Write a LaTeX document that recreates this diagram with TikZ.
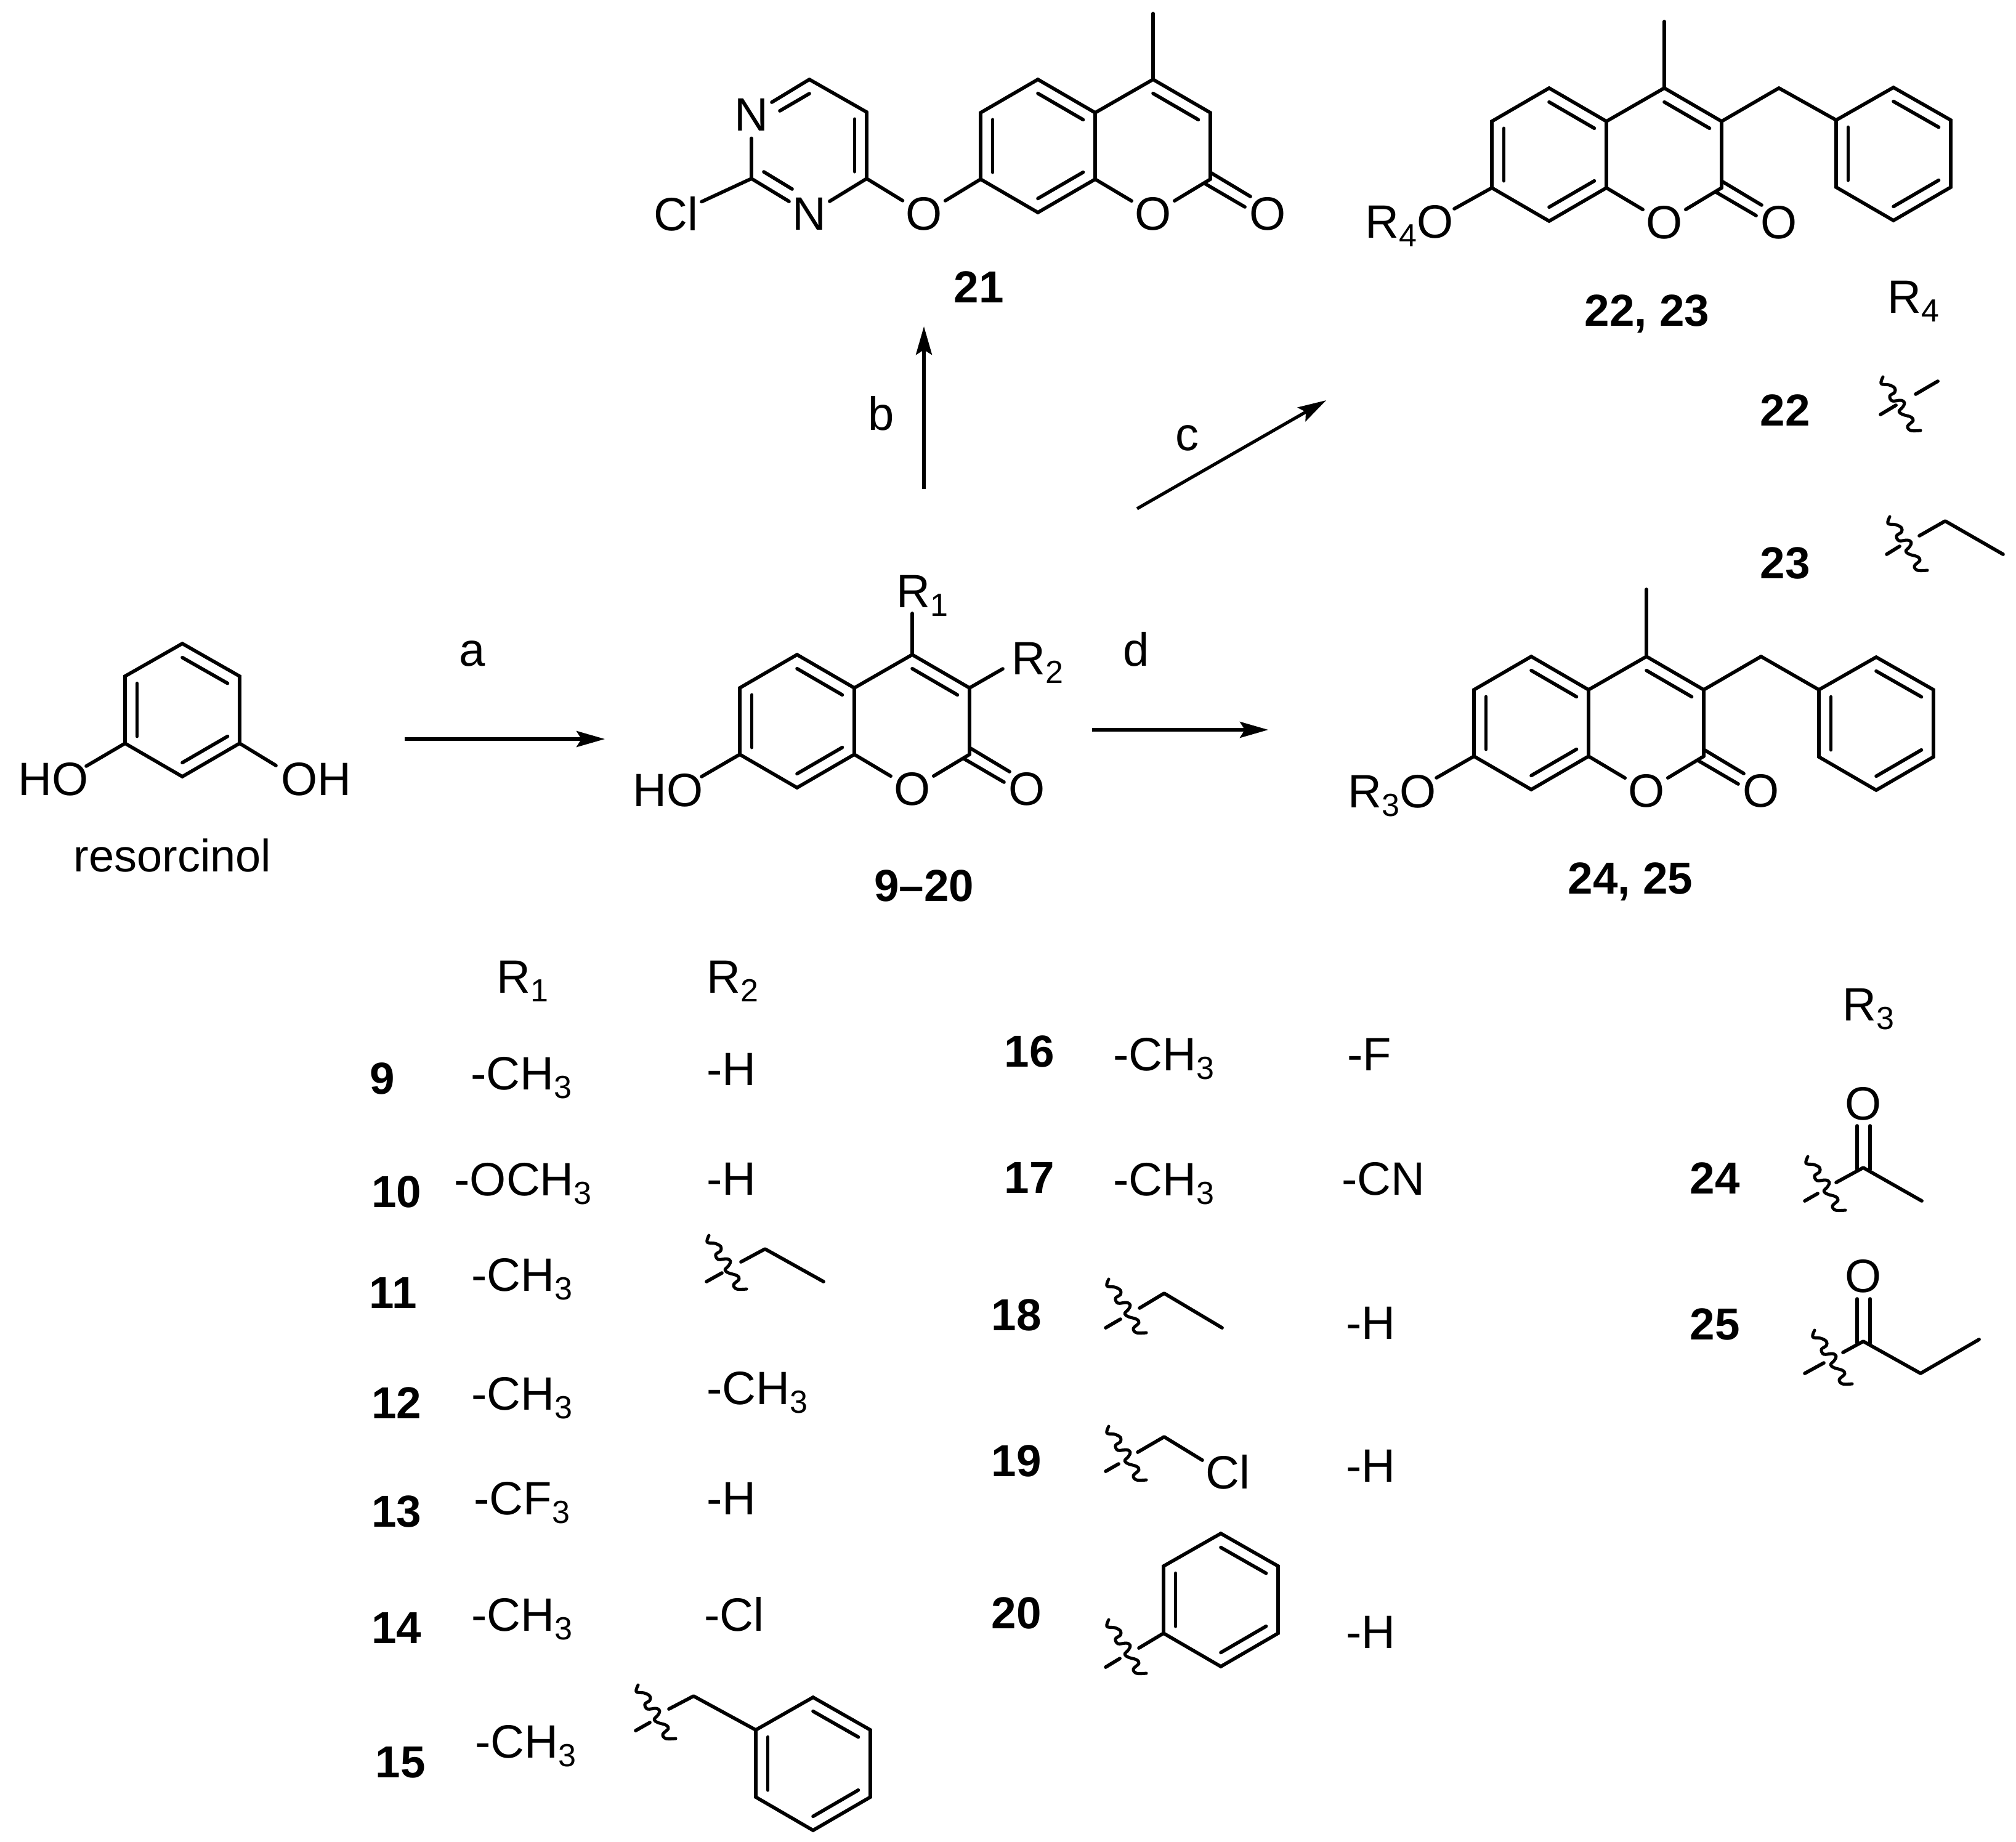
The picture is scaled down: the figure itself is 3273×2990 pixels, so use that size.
\documentclass[tikz,border=0pt]{standalone}
\usepackage{fontspec}
\setmainfont{Liberation Sans}
\usetikzlibrary{calc,arrows.meta}
\newcommand\subd[1]{\raisebox{-3.7pt}{\fontsize{13}{13}\selectfont #1}}
\newcommand\bd[2]{\draw[bond] (#1) -- (#2);}
\newcommand\inb[3]{\draw[bond] ($(#1)!0.21!(#3)$) -- ($(#2)!0.21!(#3)$);}
\newcommand\benz[3]{%
 \begin{scope}[shift={(#2,#3)}]
  \coordinate (#1a) at (0,0);\coordinate (#1b) at (93,-53);\coordinate (#1c) at (186,0);
  \coordinate (#1d) at (186,109);\coordinate (#1e) at (93,163);\coordinate (#1f) at (0,109);
  \coordinate (#1m) at (93,55);
 \end{scope}
 \draw[bond,line join=miter] (#1a)--(#1b)--(#1c)--(#1d)--(#1e)--(#1f)--cycle;
 \inb{#1f}{#1a}{#1m}\inb{#1b}{#1c}{#1m}\inb{#1d}{#1e}{#1m}}
\newcommand\coum[3]{%
 \begin{scope}[shift={(#2,#3)}]
  \coordinate (#1c4) at (0,0);\coordinate (#1c3) at (93,54);\coordinate (#1c2) at (93,162);
  \coordinate (#1c8a) at (-94,162);\coordinate (#1c4a) at (-94,54);\coordinate (#1c5) at (-187,0);
  \coordinate (#1c6) at (-280,54);\coordinate (#1c7) at (-280,162);\coordinate (#1c8) at (-187,216);
  \coordinate (#1ma) at (-187,108);\coordinate (#1mb) at (0,108);
  \node[atom] (#1o1) at (0,218) {O};
  \node[atom] (#1ox) at (186,218) {O};
  \coordinate (#1da) at (84,169);\coordinate (#1db) at (149,207);
  \coordinate (#1dc) at (93,151);\coordinate (#1dd) at (158,190);
 \end{scope}
 \bd{#1da}{#1db}\bd{#1dc}{#1dd}
 \draw[bond,line join=miter] (#1c8a)--(#1c8)--(#1c7)--(#1c6)--(#1c5)--(#1c4a)--(#1c8a);
 \draw[bond,line join=miter] (#1c4a)--(#1c4)--(#1c3)--(#1c2);
 \bd{#1c8a}{#1o1}\bd{#1c2}{#1o1}
 \inb{#1c4a}{#1c5}{#1ma}\inb{#1c6}{#1c7}{#1ma}\inb{#1c8}{#1c8a}{#1ma}\inb{#1c4}{#1c3}{#1mb}}
\newcommand\wav[1]{\draw[wave,shift={(#1)}] plot[smooth,tension=.6] coordinates {(1,0)(-2,11)(11,13)(20,18)(20,25)(12,31)(16,39)(30,38)(36,42)(33,49)(27,56)(33,61)(46,65)(50,71)(41,80)(46,87)(62,87)};}
\tikzset{
 bond/.style={line width=1.42pt,line cap=round,line join=round},
 wave/.style={line width=1.25pt,line cap=round,line join=round},
 rxn/.style={line width=1.3pt,-{Stealth[length=11.5pt,width=6.5pt,inset=2pt]}},
 atom/.style={circle,inner sep=0pt,font=\fontsize{19}{19}\selectfont},
 lab/.style={inner sep=0pt,anchor=base west,xshift=-0.8pt,font=\fontsize{19}{19}\selectfont},
 num/.style={inner sep=0pt,font=\fontsize{18.2}{18.2}\selectfont\bfseries},
}
\begin{document}
\begin{tikzpicture}[x=0.25pt,y=-0.25pt]
\useasboundingbox (0,0) rectangle (3273,2990);
% ---------- 21
\coum{p}{1872}{129}
\coordinate (pme) at (1872,22);\bd{pc4}{pme}
\node[atom] (ether) at (1500,347) {O};
\node[atom] (n1) at (1220,186) {N};
\node[atom] (n3) at (1314,347) {N};
\node[atom] (cl) at (1097,347) {Cl};
\coordinate (q4) at (1407,290);\coordinate (q5) at (1407,182);\coordinate (q6) at (1314,129);\coordinate (q2) at (1220,290);
\coordinate (qm) at (1314,236);
\bd{pc7}{ether}\bd{q4}{ether}\bd{q4}{q5}\bd{q5}{q6}\bd{q6}{n1}\bd{n1}{q2}\bd{q2}{n3}\bd{n3}{q4}\bd{q2}{cl}
\inb{q5}{q4}{qm}
\coordinate (q6i) at (1314,152);\coordinate (n1i) at (1266,180);\bd{q6i}{n1i}
\coordinate (q2i) at (1240,279);\coordinate (n3i) at (1286,307);\bd{q2i}{n3i}
\node[num] (l21) at (1589,466) {21};
% ---------- 22,23
\coum{r}{2702}{143}
\coordinate (rme) at (2702,35);\bd{rc4}{rme}
\benz{s}{2981}{195}
\coordinate (rch) at (2888,143);\bd{rc3}{rch}\bd{rch}{sa}
\node[lab] (r4o) at (2219,386) {R\subd{4}O};
\coordinate (r4e) at (2361,339);\bd{rc7}{r4e}
\node[num] (l2223) at (2674,510) {22, 23};
\node[lab] (r4h) at (3067,508) {R\subd{4}};
\node[num] (l22) at (2898,666) {22};
\node[num] (l23) at (2898,914) {23};
\coordinate (w22) at (3056,612);\wav{w22}
\coordinate (a1) at (3053,673);\coordinate (a2) at (3078,658);\coordinate (a3) at (3110,640);\coordinate (a4) at (3146,619);
\bd{a1}{a2}\bd{a3}{a4}
\coordinate (w23) at (3067,839);\wav{w23}
\coordinate (b1) at (3063,900);\coordinate (b2) at (3084,887);\coordinate (b3) at (3116,870);\coordinate (b4) at (3158,846);\coordinate (b5) at (3252,900);
\bd{b1}{b2}\draw[bond] (b3)--(b4)--(b5);
% ---------- resorcinol
\benz{t}{203}{1098}
\node[lab] (ho1) at (32,1291) {HO};
\node[lab] (oh1) at (459,1291) {OH};
\coordinate (ho1e) at (140,1244);\coordinate (oh1e) at (448,1243);
\bd{tf}{ho1e}\bd{td}{oh1e}
\node[lab,font=\fontsize{18.5}{18.5}\selectfont] (res) at (122,1415) {resorcinol};
% ---------- 9-20
\coum{u}{1481}{1063}
\node[lab] (r1m) at (1458,986) {R\subd{1}};
\node[lab] (r2m) at (1645,1095) {R\subd{2}};
\coordinate (r1e) at (1481,996);\coordinate (r2e) at (1628,1086);
\bd{uc4}{r1e}\bd{uc3}{r2e}
\node[lab] (ho2) at (1030,1309) {HO};
\coordinate (ho2e) at (1139,1261);\bd{uc7}{ho2e}
\node[num] (l920) at (1500,1438) {9–20};
% ---------- 24,25
\coum{v}{2673}{1066}
\coordinate (vme) at (2673,957);\bd{vc4}{vme}
\benz{w}{2953}{1120}
\coordinate (vch) at (2859,1066);\bd{vc3}{vch}\bd{vch}{wa}
\node[lab] (r3o) at (2191,1311) {R\subd{3}O};
\coordinate (r3e) at (2332,1263);\bd{vc7}{r3e}
\node[num] (l2425) at (2647,1432) {24, 25};
% ---------- arrows
\coordinate (a0s) at (657,1200);\coordinate (a0e) at (982,1200);\draw[rxn] (a0s)--(a0e);
\coordinate (bs) at (1500,794);\coordinate (be) at (1500,530);\draw[rxn] (bs)--(be);
\coordinate (cs) at (1846,826);\coordinate (ce) at (2153,650);\draw[rxn] (cs)--(ce);
\coordinate (ds) at (1773,1185);\coordinate (de) at (2059,1185);\draw[rxn] (ds)--(de);
\node[lab,anchor=center] (ta) at (770,1061) {a};
\node[lab,anchor=center] (tb) at (1434,671) {b};
\node[lab,anchor=center] (tc) at (1931,711) {c};
\node[lab,anchor=center] (td) at (1848,1054) {d};
% ---------- table column 1
\node[lab] (h1) at (809,1612) {R\subd{1}};
\node[lab] (h2) at (1150,1612) {R\subd{2}};
\node[num] (n9) at (621,1751) {9};
\node[lab] (e9a) at (767,1769) {-CH\subd{3}};
\node[lab] (e9b) at (1150,1762) {-H};
\node[num] (n10) at (644,1935) {10};
\node[lab] (e10a) at (740,1941) {-OCH\subd{3}};
\node[lab] (e10b) at (1150,1940) {-H};
\node[num] (n11) at (638,2099) {11};
\node[lab] (e11a) at (768,2096) {-CH\subd{3}};
\coordinate (w11) at (1150,2006);\wav{w11}
\coordinate (c1) at (1147,2081);\coordinate (c2) at (1172,2067);\coordinate (c3) at (1203,2049);\coordinate (c4) at (1242,2028);\coordinate (c5) at (1337,2081);
\bd{c1}{c2}\draw[bond] (c3)--(c4)--(c5);
\node[num] (n12) at (644,2278) {12};
\node[lab] (e12a) at (768,2289) {-CH\subd{3}};
\node[lab] (e12b) at (1150,2280) {-CH\subd{3}};
\node[num] (n13) at (644,2454) {13};
\node[lab] (e13a) at (772,2459) {-CF\subd{3}};
\node[lab] (e13b) at (1150,2459) {-H};
\node[num] (n14) at (644,2643) {14};
\node[lab] (e14a) at (768,2648) {-CH\subd{3}};
\node[lab] (e14b) at (1146,2648) {-Cl};
\node[num] (n15) at (650,2862) {15};
\node[lab] (e15a) at (774,2854) {-CH\subd{3}};
\coordinate (w15) at (1035,2736);\wav{w15}
\coordinate (d1) at (1032,2810);\coordinate (d2) at (1055,2797);\coordinate (d3) at (1086,2775);\coordinate (d4) at (1126,2754);
\bd{d1}{d2}\benz{x}{1227}{2809}\draw[bond] (d3)--(d4)--(xa);
% ---------- table column 2
\node[num] (n16) at (1671,1707) {16};
\node[lab] (e16a) at (1810,1738) {-CH\subd{3}};
\node[lab] (e16b) at (2190,1738) {-F};
\node[num] (n17) at (1671,1912) {17};
\node[lab] (e17a) at (1810,1941) {-CH\subd{3}};
\node[lab] (e17b) at (2181,1940) {-CN};
\node[num] (n18) at (1650,2135) {18};
\coordinate (w18) at (1799,2077);\wav{w18}
\coordinate (f1) at (1795,2156);\coordinate (f2) at (1819,2142);\coordinate (f3) at (1850,2124);\coordinate (f4) at (1890,2100);\coordinate (f5) at (1984,2156);
\bd{f1}{f2}\draw[bond] (f3)--(f4)--(f5);
\node[lab] (e18b) at (2188,2174) {-H};
\node[num] (n19) at (1650,2372) {19};
\coordinate (w19) at (1799,2316);\wav{w19}
\coordinate (g1) at (1795,2389);\coordinate (g2) at (1816,2377);\coordinate (g3) at (1847,2358);\coordinate (g4) at (1890,2333);\coordinate (g5) at (1952,2371);
\bd{g1}{g2}\draw[bond] (g3)--(g4)--(g5);
\node[lab] (cl19) at (1960,2417) {Cl};
\node[lab] (e19b) at (2188,2406) {-H};
\node[num] (n20) at (1650,2619) {20};
\benz{y}{1889}{2543}
\coordinate (w20) at (1799,2630);\wav{w20}
\coordinate (h1a) at (1795,2707);\coordinate (h2a) at (1818,2693);\coordinate (h3a) at (1849,2676);
\bd{h1a}{h2a}\bd{h3a}{yf}
\node[lab] (e20b) at (2188,2676) {-H};
% ---------- table column 3
\node[lab] (h3) at (2994,1657) {R\subd{3}};
\node[num] (n24) at (2784,1913) {24};
\node[atom] (o24) at (3025,1792) {O};
\coordinate (k0) at (3025,1896);\coordinate (k1) at (3120,1950);\coordinate (k2) at (2981,1920);\coordinate (k3) at (2951,1938);\coordinate (k4) at (2930,1950);
\coordinate (k5) at (3015,1899);\coordinate (k6) at (3015,1828);\coordinate (k7) at (3036,1899);\coordinate (k8) at (3036,1828);
\draw[bond] (k2)--(k0)--(k1);\bd{k3}{k4}\bd{k5}{k6}\bd{k7}{k8}
\coordinate (w24) at (2934,1878);\wav{w24}
\node[num] (n25) at (2784,2150) {25};
\node[atom] (o25) at (3025,2072) {O};
\coordinate (m0) at (3025,2178);\coordinate (m1) at (3118,2230);\coordinate (m9) at (3213,2175);\coordinate (m2) at (2992,2196);\coordinate (m3) at (2961,2213);\coordinate (m4) at (2930,2230);
\coordinate (m5) at (3015,2181);\coordinate (m6) at (3015,2109);\coordinate (m7) at (3036,2181);\coordinate (m8) at (3036,2109);
\draw[bond] (m2)--(m0)--(m1)--(m9);\bd{m3}{m4}\bd{m5}{m6}\bd{m7}{m8}
\coordinate (w25) at (2945,2160);\wav{w25}
\end{tikzpicture}
\end{document}
